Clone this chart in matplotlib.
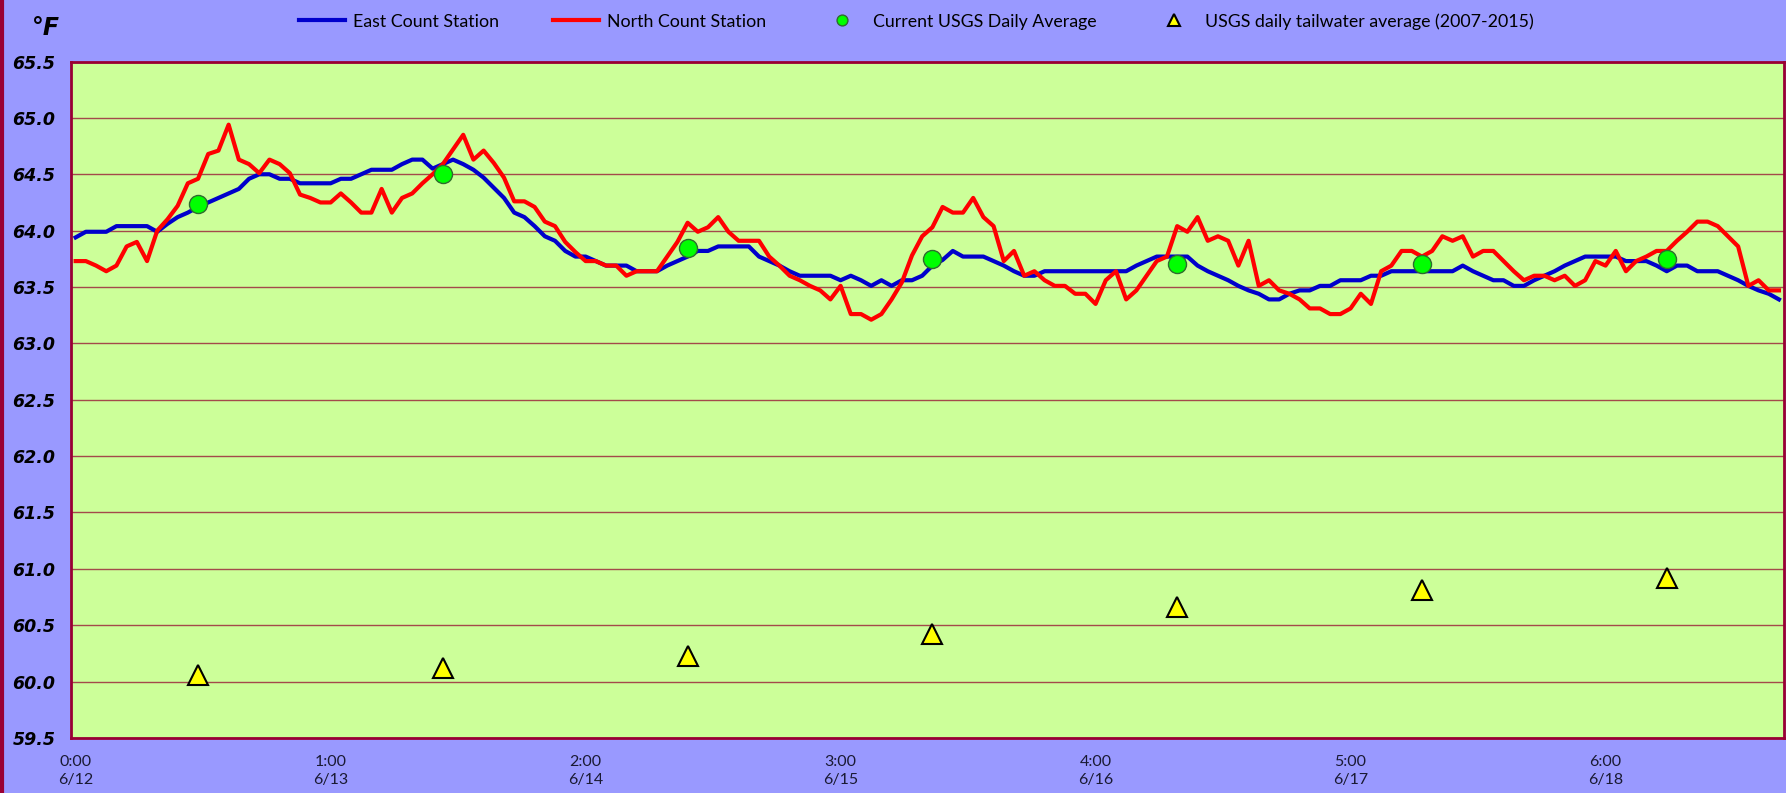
import numpy as np
import matplotlib
matplotlib.use("Agg")
import matplotlib.pyplot as plt
from matplotlib.lines import Line2D

# hourly readings, 6/12 0:00 through 6/18 23:00
east = [
    63.94, 63.99, 63.99, 63.99, 64.04, 64.04, 64.04, 64.04, 63.99, 64.06,
    64.12, 64.16, 64.21, 64.25, 64.29, 64.33, 64.37, 64.46, 64.50, 64.50,
    64.46, 64.46, 64.42, 64.42, 64.42, 64.42, 64.46, 64.46, 64.50, 64.54,
    64.54, 64.54, 64.59, 64.63, 64.63, 64.55, 64.59, 64.63, 64.59, 64.54,
    64.47, 64.38, 64.29, 64.16, 64.12, 64.04, 63.95, 63.91, 63.82, 63.77,
    63.77, 63.73, 63.69, 63.69, 63.69, 63.64, 63.64, 63.64, 63.69, 63.73,
    63.77, 63.82, 63.82, 63.86, 63.86, 63.86, 63.86, 63.77, 63.73, 63.69,
    63.64, 63.60, 63.60, 63.60, 63.60, 63.56, 63.60, 63.56, 63.51, 63.56,
    63.51, 63.56, 63.56, 63.60, 63.69, 63.74, 63.82, 63.77, 63.77, 63.77,
    63.73, 63.69, 63.64, 63.60, 63.60, 63.64, 63.64, 63.64, 63.64, 63.64,
    63.64, 63.64, 63.64, 63.64, 63.69, 63.73, 63.77, 63.77, 63.77, 63.77,
    63.69, 63.64, 63.60, 63.56, 63.51, 63.47, 63.44, 63.39, 63.39, 63.44,
    63.47, 63.47, 63.51, 63.51, 63.56, 63.56, 63.56, 63.60, 63.60, 63.64,
    63.64, 63.64, 63.64, 63.64, 63.64, 63.64, 63.69, 63.64, 63.60, 63.56,
    63.56, 63.51, 63.51, 63.56, 63.60, 63.64, 63.69, 63.73, 63.77, 63.77,
    63.77, 63.77, 63.73, 63.73, 63.73, 63.69, 63.64, 63.69, 63.69, 63.64,
    63.64, 63.64, 63.60, 63.56, 63.51, 63.47, 63.44, 63.39,
]
north = [
    63.73, 63.73, 63.69, 63.64, 63.69, 63.86, 63.90, 63.73, 64.00, 64.10,
    64.22, 64.42, 64.46, 64.68, 64.71, 64.94, 64.63, 64.59, 64.51, 64.63,
    64.59, 64.51, 64.32, 64.29, 64.25, 64.25, 64.33, 64.25, 64.16, 64.16,
    64.37, 64.16, 64.29, 64.33, 64.42, 64.50, 64.59, 64.72, 64.85, 64.63,
    64.71, 64.60, 64.47, 64.26, 64.26, 64.21, 64.08, 64.04, 63.90, 63.81,
    63.73, 63.73, 63.69, 63.69, 63.60, 63.64, 63.64, 63.64, 63.77, 63.90,
    64.07, 63.99, 64.03, 64.12, 63.99, 63.91, 63.91, 63.91, 63.77, 63.69,
    63.60, 63.56, 63.51, 63.47, 63.39, 63.51, 63.26, 63.26, 63.21, 63.26,
    63.39, 63.54, 63.78, 63.95, 64.03, 64.21, 64.16, 64.16, 64.29, 64.12,
    64.04, 63.73, 63.82, 63.60, 63.64, 63.56, 63.51, 63.51, 63.44, 63.44,
    63.35, 63.56, 63.64, 63.39, 63.47, 63.60, 63.73, 63.77, 64.04, 63.99,
    64.12, 63.91, 63.95, 63.91, 63.69, 63.91, 63.51, 63.56, 63.47, 63.44,
    63.39, 63.31, 63.31, 63.26, 63.26, 63.31, 63.44, 63.35, 63.64, 63.69,
    63.82, 63.82, 63.77, 63.82, 63.95, 63.91, 63.95, 63.77, 63.82, 63.82,
    63.73, 63.64, 63.56, 63.60, 63.60, 63.56, 63.60, 63.51, 63.56, 63.73,
    63.69, 63.82, 63.64, 63.73, 63.77, 63.82, 63.82, 63.91, 63.99, 64.08,
    64.08, 64.04, 63.95, 63.86, 63.51, 63.56, 63.47, 63.47,
]

# daily values plotted at noon of each day
daily_hours = [12, 36, 60, 84, 108, 132, 156]
usgs_current = [64.24, 64.50, 63.85, 63.75, 63.70, 63.70, 63.75]
usgs_tailwater = [60.06, 60.12, 60.23, 60.42, 60.66, 60.81, 60.92]

tick_hours = [0, 25, 50, 75, 100, 125, 150]
tick_labels = ["0:00\n6/12", "1:00\n6/13", "2:00\n6/14", "3:00\n6/15",
               "4:00\n6/16", "5:00\n6/17", "6:00\n6/18"]

hours = np.arange(len(east))

fig = plt.figure(figsize=(17.86, 7.93), dpi=100, facecolor="#9999FF")
ax = fig.add_axes([0.0395, 0.0694, 0.9594, 0.853])
ax.set_facecolor("#CCFF99")

ax.plot(hours, east, color="#0000CC", lw=3, label="East Count Station", zorder=3)
ax.plot(hours, north, color="#FF0000", lw=3, label="North Count Station", zorder=3)
ax.plot(daily_hours, usgs_current, "o", ms=13, mfc="#00FF00", mec="#2E6B2E",
        mew=1, label="Current USGS Daily Average", zorder=4)
ax.plot(daily_hours, usgs_tailwater, "^", ms=15, mfc="#FFFF00", mec="black",
        mew=1.5, label="USGS daily tailwater average (2007-2015)", zorder=4)

ax.set_xlim(-0.5, len(east) - 0.5)
ax.set_ylim(59.5, 65.5)
ax.set_yticks(np.arange(59.5, 65.51, 0.5))
ax.set_yticklabels(["%.1f" % v for v in np.arange(59.5, 65.51, 0.5)],
                   fontsize=12.5, fontweight="bold", fontstyle="italic")
ax.set_xticks(tick_hours)
ax.set_xticklabels(tick_labels, fontsize=11.5, family="Lato", color="#1a1a33",
                   linespacing=1.4)
ax.tick_params(axis="both", length=0)
ax.tick_params(axis="y", pad=11)
ax.tick_params(axis="x", pad=12)
ax.grid(axis="y", color="#A34A4A", lw=1)
ax.set_axisbelow(True)
for s in ax.spines.values():
    s.set_color("#990033")
    s.set_linewidth(2)

fig.text(0.018, 0.98, "°F", fontsize=17, fontweight="bold", fontstyle="italic",
         ha="left", va="top")
fig.add_artist(Line2D([0.001, 0.001], [0, 1], color="#990033", lw=3))

fig.legend(loc="center", bbox_to_anchor=(0.513, 0.973), ncol=4, frameon=False,
           prop={"family": "Lato", "size": 12.8}, handlelength=2.6,
           handletextpad=0.45, columnspacing=3.0, markerscale=0.6)

fig.savefig("out.png", dpi=100, facecolor=fig.get_facecolor())
